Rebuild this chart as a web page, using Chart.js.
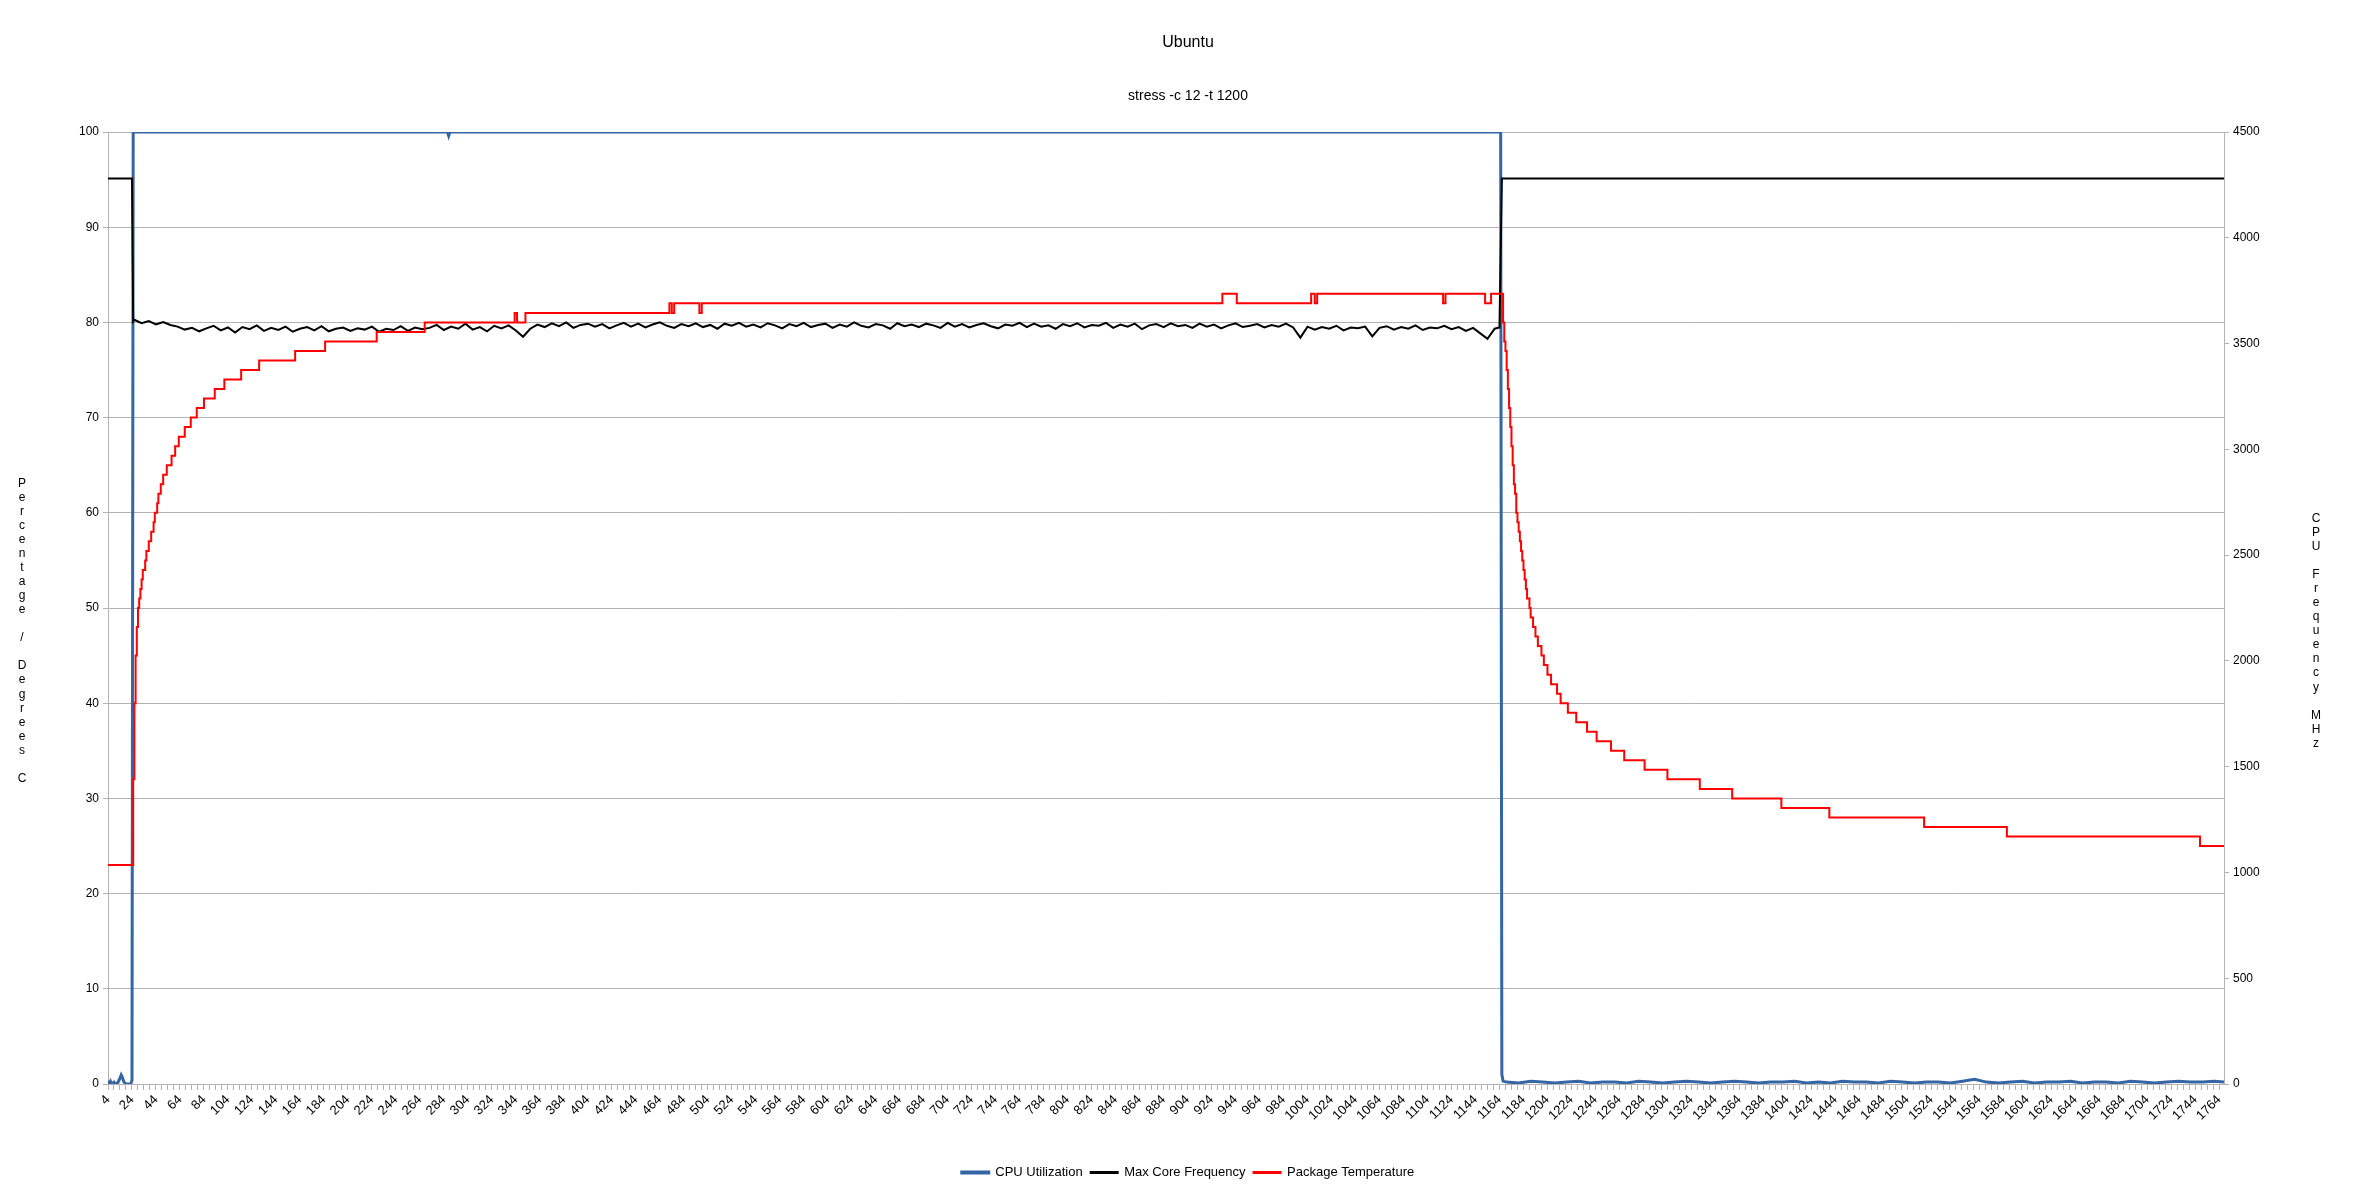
<!DOCTYPE html>
<html>
<head>
<meta charset="utf-8">
<title>Ubuntu</title>
<script src="https://cdn.jsdelivr.net/npm/chart.js@4.4.1/dist/chart.umd.min.js"></script>
<style>
  body { margin: 0; background: #fff; }
  canvas { display: block; }
</style>
</head>
<body>
<canvas id="stress-chart" width="2371" height="1186"></canvas>
<script>
// x axis labels (sample number, every 20th)
const xTickLabels = [4,24,44,64,84,104,124,144,164,184,204,224,244,264,284,304,324,344,364,384,
  404,424,444,464,484,504,524,544,564,584,604,624,644,664,684,704,724,744,764,784,
  804,824,844,864,884,904,924,944,964,984,1004,1024,1044,1064,1084,1104,1124,1144,1164,1184,
  1204,1224,1244,1264,1284,1304,1324,1344,1364,1384,1404,1424,1444,1464,1484,1504,1524,1544,1564,1584,
  1604,1624,1644,1664,1684,1704,1724,1744,1764];
const xMin = 4;
const xMax = 1768;

// CPU Utilization %, [sample, value]
const cpuPoints = [[4,0.3],[5,0.1],[6,0.3],[7,0],[9,0.2],[10,0],[12,0.1],[14,0.6],[15,0.95],[16,0.7],
  [17,0.3],[18,0.1],[19,0],[23,0],[24,0.4],[25,100],[287,100],[288,99.6],[289,100],[1165,100],[1166,1],[1167,0.3]];
// CPU idle tail after the run, one value every 10 samples from 1170
const cpuTailStart = 1170;
const cpuTailStep = 10;
const cpuTail = [0.2,0.1,0.3,0.2,0.1,0.2,0.3,0.1,0.2,0.2, 0.1,0.3,0.2,0.1,0.2,0.3,0.2,0.1,0.2,0.3,
  0.2,0.1,0.2,0.2,0.3,0.1,0.2,0.1,0.3,0.2, 0.2,0.1,0.3,0.2,0.1,0.2,0.2,0.1,0.3,0.5,
  0.2,0.1,0.2,0.3,0.1,0.2,0.2,0.3,0.1,0.2, 0.2,0.1,0.3,0.2,0.1,0.2,0.3,0.2,0.2,0.3, 0.2];

// Max Core Frequency MHz
const freqBefore = [[4,4280],[24,4280],[25,3605]];
const freqAfter = [[1164,3576],[1166,4280],[1768,4280]];
// under load, one reading every 6 samples from 26
const freqLoadStart = 26;
const freqLoadStep = 6;
const freqLoad = [3612,3596,3606,3590,3602,3588,
  3580,3566,3574,3558,3572,3584,3562,3576,3552,3578,3568,3586,3560,3574,3564,3580,3556,3570,3578,3562,
  3582,3558,3570,3576,3560,3572,3566,3580,3556,3570,3564,3582,3560,3576,3568,
  3574,3588,3564,3580,3570,3594,3566,3578,3558,3584,3572,3586,3562,
  3532,
  3570,3590,3578,3596,3582,3600,3574,3588,3594,3580,
  3592,3572,3586,3598,3580,3594,3576,3590,3600,3584,
  3574,3592,3582,3596,3578,3588,3570,3594,3584,3598,
  3580,3590,3576,3596,3586,3572,3592,3582,3598,3578,
  3588,3594,3574,3590,3580,3600,3584,3576,3592,3586,
  3570,3596,3582,3590,3578,3594,3586,3574,3598,3580,
  3592,3576,3588,3596,3582,3572,3590,3584,3598,3578,
  3594,3580,3586,3570,3592,3582,3596,3576,3588,3584,
  3598,3574,3590,3580,3594,3568,3586,3592,3578,3596,
  3582,3588,3574,3594,3580,3590,3572,3586,3596,3578,
  3584,3592,3576,3588,3580,3594,
  3576,3528,3580,3566,3578,3570,3584,3562,3576,3572,3580,3534,3574,3582,3566,3578,3570,3586,3564,3576,
  3572,3584,3568,3578,3560,3574,3548,3522,3570];

// Package Temperature C, [sample where the reading changes, value]
const tempSteps = [[4,23],[25,32],[26,40],[27,45],[28,48],[29,50],[30,51],[31,52],[32,53],[33,54],
  [35,55],[36,56],[38,57],[40,58],[42,59],[43,60],[45,61],[46,62],[48,63],[50,64],[53,65],[57,66],
  [60,67],[63,68],[68,69],[73,70],[78,71],[84,72],[93,73],[101,74],[115,75],[130,76],[160,77],[185,78],
  [228,79],[268,80],[343,81],[345,80],[352,81],[472,82],[474,81],[476,82],[497,81],[499,82],[933,83],
  [945,82],[1007,83],[1010,82],[1012,83],[1117,82],[1119,83],[1152,82],[1157,83],[1167,80],[1168,78],
  [1169,77],[1170,75],[1171,73],[1172,71],[1173,69],[1174,67],[1175,65],[1176,63],[1177,62],[1178,60],
  [1179,59],[1180,58],[1181,57],[1182,56],[1183,55],[1184,54],[1185,53],[1186,52],[1187,51],[1189,50],
  [1190,49],[1192,48],[1194,47],[1196,46],[1199,45],[1201,44],[1204,43],[1207,42],[1212,41],[1215,40],
  [1221,39],[1228,38],[1237,37],[1245,36],[1257,35],[1268,34],[1285,33],[1304,32],[1331,31],[1358,30],
  [1399,29],[1439,28],[1518,27],[1587,26],[1748,25],[1768,25]];

const leftTitle = 'Percentage / Degrees C';
const rightTitle = 'CPU Frequency MHz';

const toXY = ([x, y]) => ({x, y});
const cpuData = cpuPoints.map(toXY).concat(cpuTail.map((v, i) => ({x: cpuTailStart + i * cpuTailStep, y: v})));
cpuData[cpuData.length - 1].x = xMax;
const freqData = freqBefore.map(toXY)
  .concat(freqLoad.map((v, i) => ({x: freqLoadStart + i * freqLoadStep, y: v})))
  .concat(freqAfter.map(toXY));
const tempData = tempSteps.map(toXY);

// minor tick marks every 5 samples
const xTickMarks = [];
for (let v = xMin; v <= xMax; v += 5) xTickMarks.push(v);

const font = '"Liberation Sans", Arial, sans-serif';
const gridGray = '#b3b3b3';

// vertical axis titles written as stacked letters
const stackedTitles = {
  id: 'stackedTitles',
  afterDraw(chart) {
    const {ctx, chartArea} = chart;
    const mid = (chartArea.top + chartArea.bottom) / 2 + 23;
    const gap = 14.05;
    ctx.save();
    ctx.font = '12px ' + font;
    ctx.fillStyle = '#000';
    ctx.textAlign = 'center';
    ctx.textBaseline = 'middle';
    [[leftTitle, chartArea.left - 86], [rightTitle, chartArea.right + 92]].forEach(([text, x]) => {
      const chars = text.split('');
      const top = mid - (chars.length - 1) * gap / 2;
      chars.forEach((c, i) => ctx.fillText(c, x, top + i * gap));
    });
    ctx.restore();
  }
};

const ctx = document.getElementById('stress-chart').getContext('2d');
new Chart(ctx, {
  type: 'line',
  data: {
    datasets: [{
      label: 'CPU Utilization',
      data: cpuData,
      borderColor: '#3465a4',
      backgroundColor: '#3465a4',
      borderWidth: 3,
      yAxisID: 'y',
      order: 3
    }, {
      label: 'Max Core Frequency',
      data: freqData,
      borderColor: '#000000',
      backgroundColor: '#000000',
      borderWidth: 2,
      yAxisID: 'y1',
      order: 2
    }, {
      label: 'Package Temperature',
      data: tempData,
      borderColor: '#ff0000',
      backgroundColor: '#ff0000',
      borderWidth: 2,
      stepped: 'before',
      yAxisID: 'y',
      order: 1
    }]
  },
  options: {
    responsive: false,
    animation: false,
    parsing: false,
    elements: { point: { radius: 0 }, line: { tension: 0 } },
    layout: { padding: { left: 40, right: 35, top: 0, bottom: -3 } },
    plugins: {
      title: {
        display: true,
        text: 'Ubuntu',
        color: '#000',
        font: { family: font, size: 16, weight: 'normal' },
        padding: { top: 33, bottom: 0 }
      },
      subtitle: {
        display: true,
        text: 'stress -c 12 -t 1200',
        color: '#000',
        font: { family: font, size: 14, weight: 'normal' },
        padding: { top: 36, bottom: 27 }
      },
      legend: {
        position: 'bottom',
        labels: {
          color: '#000',
          font: { family: font, size: 13 },
          boxWidth: 27,
          boxHeight: 1,
          padding: 8,
          sort: (a, b) => a.datasetIndex - b.datasetIndex
        }
      },
      tooltip: { enabled: false }
    },
    scales: {
      x: {
        type: 'linear',
        min: xMin,
        max: xMax,
        afterBuildTicks: (scale) => { scale.ticks = xTickMarks.map(v => ({value: v})); },
        afterFit: (scale) => { scale.height = 74; },
        grid: { drawOnChartArea: false, drawTicks: true, tickLength: 6, color: gridGray },
        border: { display: true, color: gridGray },
        ticks: {
          autoSkip: false,
          minRotation: 45,
          maxRotation: 45,
          padding: 2,
          color: '#000',
          font: { family: '"Liberation Sans Narrow", ' + font, size: 13 },
          callback: (value) => xTickLabels.includes(value) ? String(value) : ''
        }
      },
      y: {
        position: 'left',
        min: 0,
        max: 100,
        afterFit: (scale) => { scale.width = 68; },
        grid: { color: gridGray, tickLength: 5 },
        border: { display: true, color: gridGray },
        ticks: { stepSize: 10, padding: 4, color: '#000', font: { family: font, size: 12 } }
      },
      y1: {
        position: 'right',
        min: 0,
        max: 4500,
        afterFit: (scale) => { scale.width = 112; },
        grid: { drawOnChartArea: false, color: gridGray, tickLength: 5 },
        border: { display: true, color: gridGray },
        ticks: {
          stepSize: 500,
          padding: 4,
          color: '#000',
          font: { family: font, size: 12 },
          callback: (value) => String(value)
        }
      }
    }
  },
  plugins: [stackedTitles]
});
</script>
</body>
</html>
